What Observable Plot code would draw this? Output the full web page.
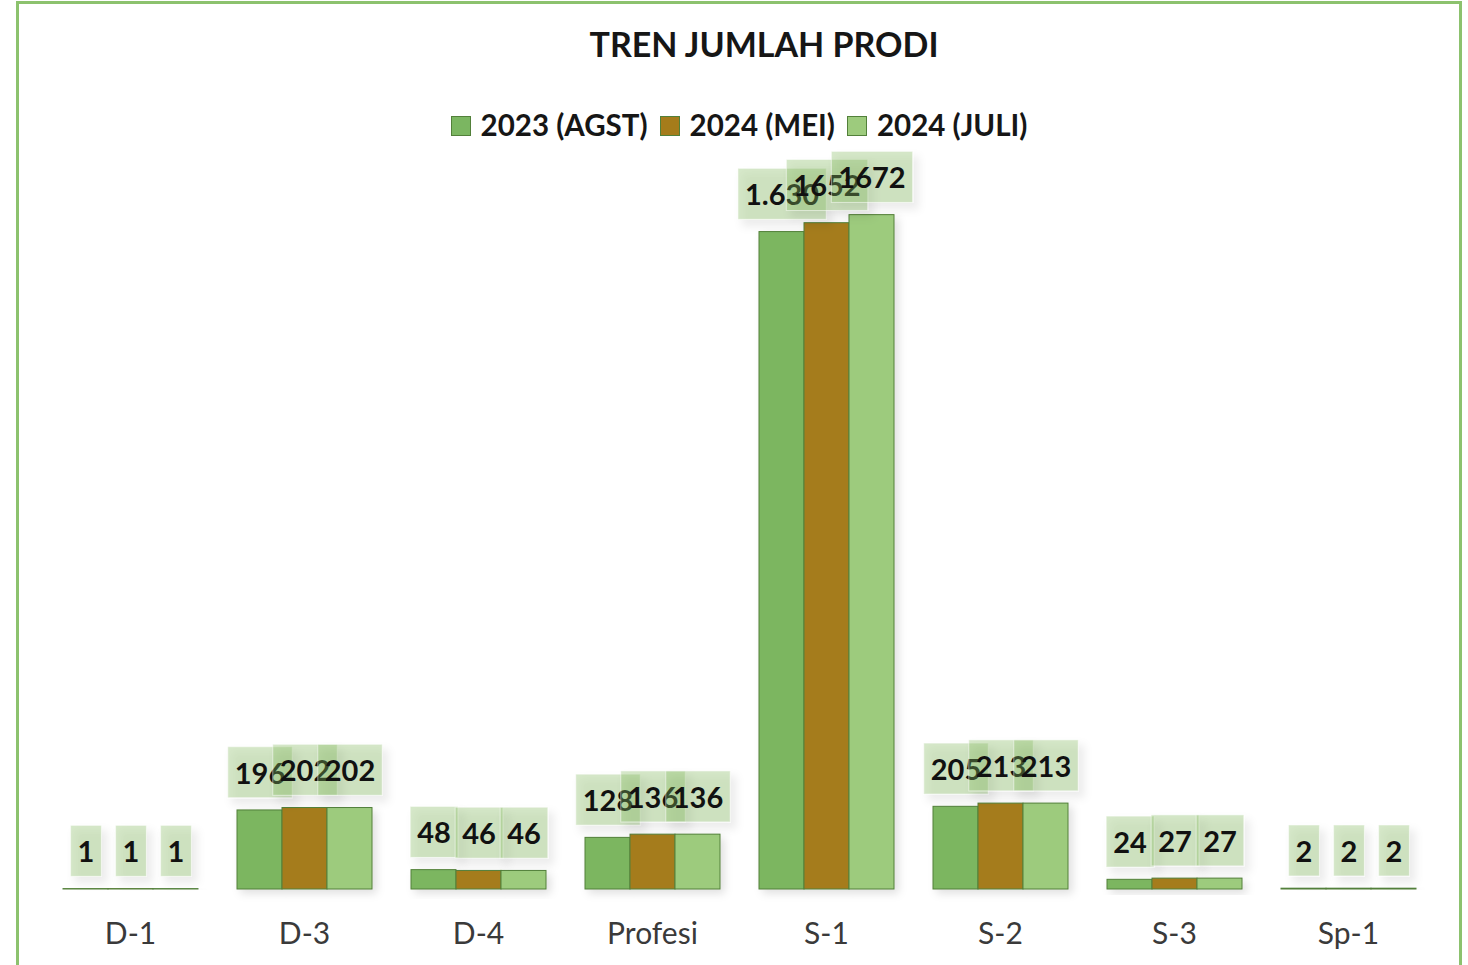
<!DOCTYPE html>
<html><head><meta charset="utf-8">
<script src="https://cdn.jsdelivr.net/npm/d3@7"></script>
<script src="https://cdn.jsdelivr.net/npm/@observablehq/plot@0.6"></script>
<style>
html,body{margin:0;padding:0;background:#fff;overflow:hidden;width:1468px;height:965px}
#frame{position:absolute;left:16px;top:1px;width:1440px;height:1000px;border:3px solid #8cc26e;font-family:Lato,"Open Sans",sans-serif}
#title{position:absolute;left:50px;right:0;top:20px;line-height:40px;text-align:center;font-size:34px;font-weight:700;color:#161616}
#legend{position:absolute;left:0;right:0;top:105px;line-height:32px;text-align:center;font-size:29.5px;font-weight:700;color:#161616;white-space:nowrap}
#legend .item{display:inline-block;margin:0 6px}
#legend .sw{display:inline-block;width:18px;height:18px;border:1.5px solid #52803a;vertical-align:middle;margin-right:10px;position:relative;top:-2px}
#chart{position:absolute;left:0;top:146px}
</style></head>
<body>
<div id="frame">
  <div id="title">TREN JUMLAH PRODI</div>
  <div id="legend"></div>
  <div id="chart"></div>
</div>
<script>
const categories = ["D-1","D-3","D-4","Profesi","S-1","S-2","S-3","Sp-1"];
const seriesNames = ["2023 (AGST)","2024 (MEI)","2024 (JULI)"];
const seriesColors = ["#7bb661","#a57c1b","#9dcb7d"];
const values2023 = [1,196,48,128,1630,205,24,2];
const values2024Mei = [1,202,46,136,1652,213,27,2];
const values2024Juli = [1,202,46,136,1672,213,27,2];
const labelOverrides = {"2023 (AGST)|S-1": "1.630"};

const seriesValues = [values2023, values2024Mei, values2024Juli];
const data = [];
categories.forEach((c, i) => {
  seriesNames.forEach((s, j) => {
    const v = seriesValues[j][i];
    data.push({cat: c, series: s, value: v, label: labelOverrides[s + "|" + c] ?? String(v)});
  });
});

// legend
const legend = document.getElementById("legend");
seriesNames.forEach((s, j) => {
  const it = document.createElement("span");
  it.className = "item";
  const sw = document.createElement("span");
  sw.className = "sw";
  sw.style.background = seriesColors[j];
  it.appendChild(sw);
  it.appendChild(document.createTextNode(s));
  legend.appendChild(it);
});

const plot = Plot.plot({
  width: 1440,
  height: 819,
  marginLeft: 41,
  marginRight: 41,
  marginTop: 13,
  marginBottom: 80,
  style: {fontFamily: "Lato, 'Open Sans', sans-serif", background: "transparent", overflow: "visible"},
  fx: {domain: categories, padding: 0.22, label: null, axis: "bottom", tickSize: 0, tickPadding: 33},
  x: {domain: seriesNames, padding: 0, axis: null},
  y: {domain: [0, 1800], axis: null},
  color: {domain: seriesNames, range: seriesColors},
  marks: [
    Plot.barY(data, {fx: "cat", x: "series", y: "value", fill: "series", stroke: "#52803a", strokeWidth: 1, className: "bars"}),
    Plot.text(data, {fx: "cat", x: "series", y: "value", text: "label", dy: -36, lineAnchor: "middle", fontSize: 29, fontWeight: 700, fill: "#111", className: "vlabels"})
  ]
});
document.getElementById("chart").appendChild(plot);

// axis label styling
plot.querySelectorAll("[aria-label='fx-axis tick label'] text, [aria-label='fx-axis'] text").forEach(t => {
  t.setAttribute("font-size", 30);
  t.style.fontSize = "30px";
  t.setAttribute("fill", "#3a3a3a");
});

// shadows
const defs = document.createElementNS("http://www.w3.org/2000/svg", "defs");
defs.innerHTML = `<filter id="sh" x="-50%" y="-50%" width="200%" height="200%"><feDropShadow dx="5" dy="6" stdDeviation="4" flood-color="#000" flood-opacity="0.22"/></filter>
<filter id="shb" x="-50%" y="-50%" width="200%" height="200%"><feDropShadow dx="4" dy="4" stdDeviation="4" flood-color="#000" flood-opacity="0.12"/></filter>`;
plot.insertBefore(defs, plot.firstChild);
plot.querySelectorAll("g.bars").forEach(g => g.setAttribute("filter", "url(#shb)"));

// label boxes behind each value label (sized from the rendered text)
plot.querySelectorAll("g.vlabels text").forEach(t => {
  const b = t.getBBox();
  const padX = 7, padY = 8;
  const r = document.createElementNS("http://www.w3.org/2000/svg", "rect");
  r.setAttribute("x", b.x - padX);
  r.setAttribute("y", b.y - padY);
  r.setAttribute("width", b.width + 2 * padX);
  r.setAttribute("height", b.height + 2 * padY);
  r.setAttribute("fill", "rgba(130,185,95,0.33)");
  r.setAttribute("stroke", "rgba(255,255,255,0.5)");
  r.setAttribute("filter", "url(#sh)");
  const tr = t.getAttribute("transform");
  if (tr) r.setAttribute("transform", tr);
  t.parentNode.insertBefore(r, t);
});
</script>
</body></html>
